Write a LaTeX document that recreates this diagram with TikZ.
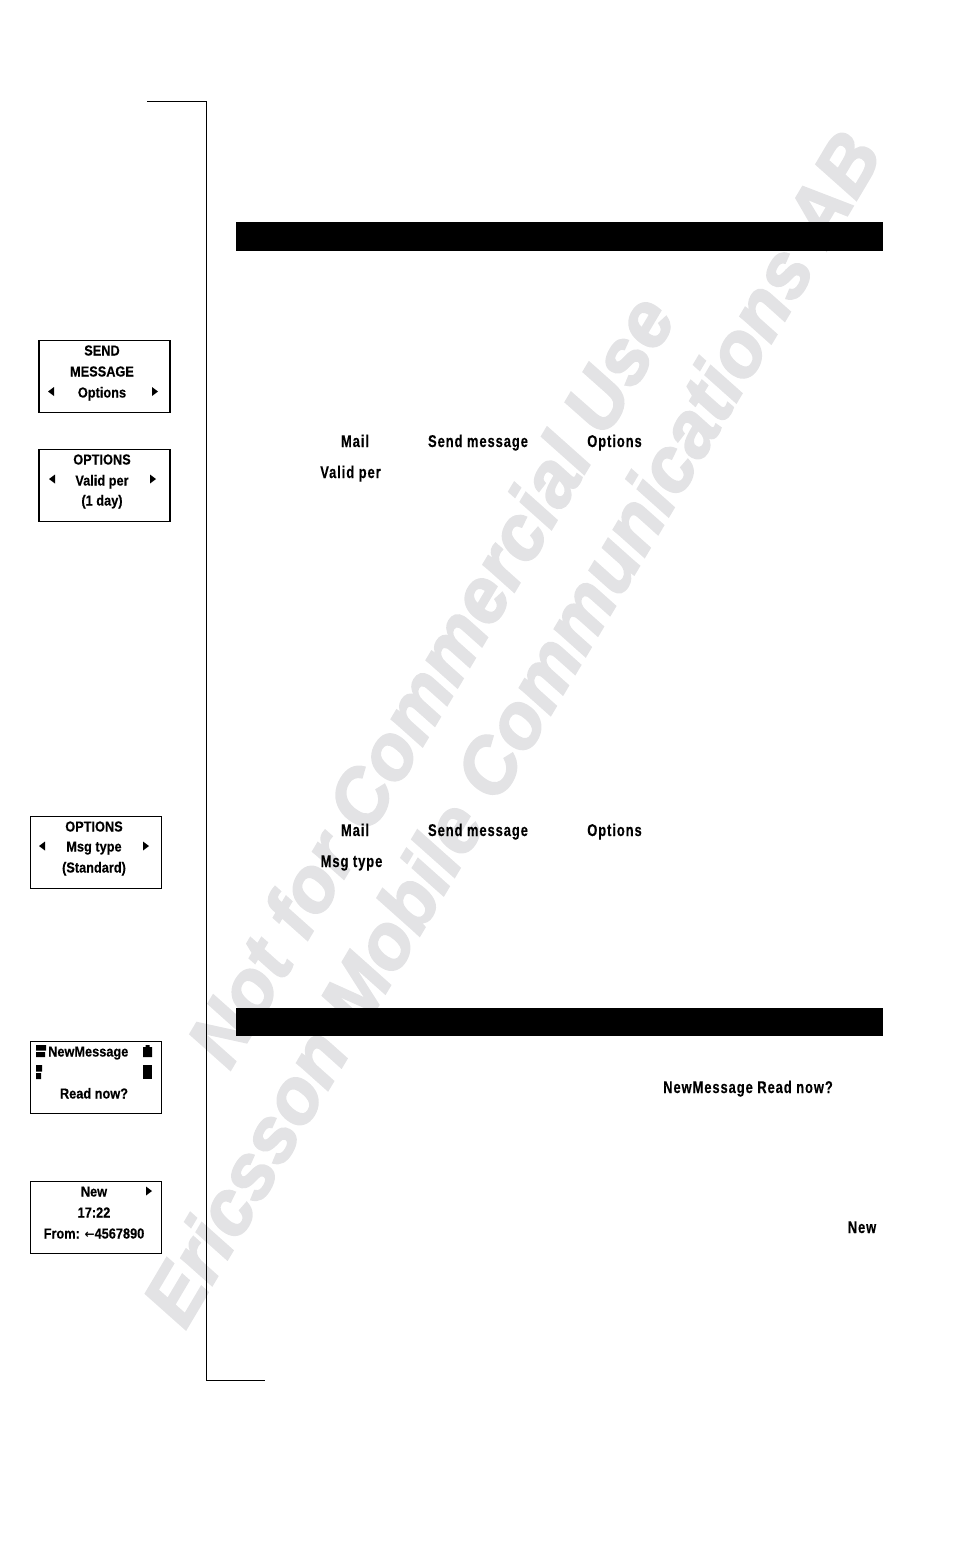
\documentclass[tikz,border=0pt]{standalone}
\usepackage{fontspec}
\setmainfont{Liberation Sans}
\newfontfamily\lcdfont[FakeStretch=0.88,FakeBold=0.3]{Liberation Sans Bold}
\newfontfamily\menufont[FakeStretch=0.76,LetterSpace=5.5,FakeBold=0.3]{Liberation Sans Bold}
\newfontfamily\markfont[FakeBold=2.5]{Liberation Sans Bold Italic}
\newfontfamily\arrowfont{DejaVu Sans Bold}
\definecolor{markgray}{HTML}{E3E3E5}
\tikzset{
    lcdtext/.style={inner sep=0pt, anchor=base, font=\lcdfont\fontsize{14.5}{16}\selectfont},
    menutext/.style={inner sep=0pt, anchor=base, font=\menufont\fontsize{17}{20}\selectfont},
    lcdbox/.style={draw, minimum width=131pt, minimum height=72pt, inner sep=0pt},
    headbar/.style={fill=black, inner sep=0pt, minimum width=647pt, minimum height=28.5pt},
    stamp/.style={inner sep=0pt, rotate=59.3, text=markgray, font=\markfont\fontsize{77}{80}\selectfont}
}
\newcommand{\scrollleft}[2]{\fill (#1-3,#2) -- (#1+3,#2-4.5) -- (#1+3,#2+4.5) -- cycle;}
\newcommand{\scrollright}[2]{\fill (#1+3,#2) -- (#1-3,#2-4.5) -- (#1-3,#2+4.5) -- cycle;}
\begin{document}
\begin{tikzpicture}[x=1pt, y=-1pt]
    \useasboundingbox (0,0) rectangle (954,1546);

    % watermark
    \node[stamp] (markone) at (430,680) {Not for Commercial Use};
    \node[stamp] (marktwo) at (511,728) {Ericsson Mobile  Communications AB};

    % margin rule
    \coordinate (ruletop) at (147,101.5);
    \coordinate (rulecornera) at (206.5,101.5);
    \coordinate (rulecornerb) at (206.5,1380.5);
    \coordinate (ruleend) at (265,1380.5);
    \draw[line width=1pt] (ruletop) -- (rulecornera) -- (rulecornerb) -- (ruleend);

    \node[headbar] (barone) at (559.5,236.5) {};
    \node[headbar] (bartwo) at (559.5,1022) {};

    % displays
    \node[lcdbox, line width=1.5pt] (send) at (104.5,376.5) {};
    \node[lcdtext] (sendl) at (102,355.5) {SEND};
    \node[lcdtext] (sendm) at (102,376.5) {MESSAGE};
    \node[lcdtext] (sendo) at (102,397.5) {Options};
    \scrollleft{51}{391.5}
    \scrollright{155}{391.5}

    \node[lcdbox, line width=1.5pt] (valid) at (104.5,485.5) {};
    \node[lcdtext] (validl) at (102,464.5) {OPTIONS};
    \node[lcdtext] (validm) at (102,485.5) {Valid per};
    \node[lcdtext] (validd) at (102,505.5) {(1 day)};
    \scrollleft{52}{479}
    \scrollright{153}{479}

    \node[lcdbox] (msgtype) at (96,852) {};
    \node[lcdtext] (msgl) at (94,831.5) {OPTIONS};
    \node[lcdtext] (msgm) at (94,851.5) {Msg type};
    \node[lcdtext] (msgd) at (94,872.5) {(Standard)};
    \scrollleft{42}{846}
    \scrollright{146}{846}

    \node[lcdbox] (newmsg) at (96,1077.5) {};
    \node[lcdtext, anchor=base west] (newl) at (48,1056.5) {NewMessage};
    \node[lcdtext] (newr) at (94,1098.5) {Read now?};
    \fill (36,1045) rectangle (46,1050.5) (36,1052) rectangle (45,1057);
    \fill (36,1065) rectangle (42,1071.5) (36,1073) rectangle (41,1079);
    \fill (143,1047) rectangle (152,1057) (145.5,1045) rectangle (149.5,1047);
    \fill (143,1065) rectangle (152,1079);

    \node[lcdbox] (newtime) at (96,1217.5) {};
    \node[lcdtext] (timel) at (94,1196.5) {New};
    \node[lcdtext] (timem) at (94,1217.5) {17:22};
    \node[lcdtext] (timef) at (94,1238.5) {From: {\arrowfont\fontsize{12}{12}\selectfont←}4567890};
    \scrollright{149}{1191}

    % menu words
    \node[menutext] (maila) at (355,447) {Mail};
    \node[menutext] (senda) at (478,447) {Send message};
    \node[menutext] (opta) at (614.5,447) {Options};
    \node[menutext] (vper) at (350.5,478) {Valid per};
    \node[menutext] (mailb) at (355,836) {Mail};
    \node[menutext] (sendb) at (478,836) {Send message};
    \node[menutext] (optb) at (614.5,836) {Options};
    \node[menutext] (mtype) at (351.5,867) {Msg type};
    \node[menutext] (readnow) at (748,1093) {NewMessage Read now?};
    \node[menutext] (newword) at (862,1233) {New};
\end{tikzpicture}
\end{document}
